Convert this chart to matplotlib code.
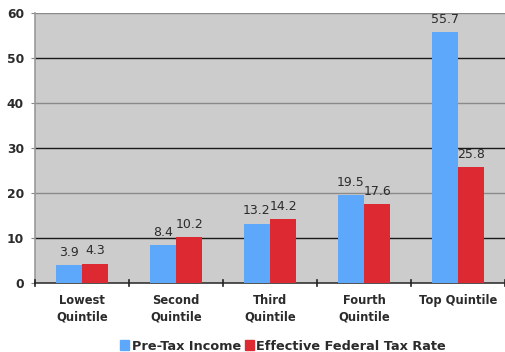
import matplotlib
matplotlib.use("Agg")
import matplotlib.pyplot as plt
import numpy as np

categories = ["Lowest\nQuintile", "Second\nQuintile", "Third\nQuintile", "Fourth\nQuintile", "Top Quintile"]
pre_tax_income = [3.9, 8.4, 13.2, 19.5, 55.7]
effective_tax_rate = [4.3, 10.2, 14.2, 17.6, 25.8]
series_names = ["Pre-Tax Income", "Effective Federal Tax Rate"]
y_ticks = [0, 10, 20, 30, 40, 50, 60]

blue = "#5ea8fb"
red = "#dd2a32"
text_color = "#2b2b2b"

fig = plt.figure(figsize=(5.05, 3.52), dpi=100)
ax = fig.add_axes([35 / 505, 69 / 352, 470 / 505, 270 / 352])
ax.set_facecolor("#cccccc")

x = np.arange(len(categories))
w = 0.28
b1 = ax.bar(x - w / 2, pre_tax_income, w, color=blue, zorder=3)
b2 = ax.bar(x + w / 2, effective_tax_rate, w, color=red, zorder=3)

for bars, vals in ((b1, pre_tax_income), (b2, effective_tax_rate)):
    for rect, v in zip(bars, vals):
        ax.annotate(f"{v:.1f}", (rect.get_x() + rect.get_width() / 2, v),
                    xytext=(0, 4.5), textcoords="offset points",
                    ha="center", va="bottom", fontsize=9, color=text_color, zorder=4)

ax.set_xlim(-0.5, len(categories) - 0.5)
ax.set_ylim(0, 60)
ax.set_yticks(y_ticks)
ax.set_yticklabels([str(t) for t in y_ticks], fontsize=8.8, color=text_color, fontweight="bold")

# horizontal gridlines
for t in y_ticks[1:]:
    col = "#1a1a1a" if t % 20 else "#8a8a8a"
    ax.axhline(t, color=col, linewidth=1.0, zorder=1)

ax.set_xticks(x)
ax.set_xticklabels(categories, fontsize=8.3, color=text_color, fontweight="bold",
                   linespacing=1.3)
ax.tick_params(axis="x", length=0, pad=8)
ax.tick_params(axis="y", length=3, color="#888888", pad=5)
# category boundary tick marks
for b in np.arange(-0.5, len(categories), 1.0):
    ax.plot([b, b], [-0.6, 0.6], color="#222222", linewidth=1.2, clip_on=False, zorder=5)

for s in ("top", "right"):
    ax.spines[s].set_visible(False)
ax.spines["left"].set_color("#999999")
ax.spines["left"].set_linewidth(1.2)
ax.spines["bottom"].set_color("#333333")
ax.spines["bottom"].set_linewidth(1.2)

handles = [plt.Rectangle((0, 0), 1, 1, color=blue), plt.Rectangle((0, 0), 1, 1, color=red)]
leg = fig.legend(handles, series_names, loc="center", bbox_to_anchor=(283 / 505, 1 - 346 / 352),
                 ncol=2, frameon=False, handlelength=0.7, handleheight=0.7, handletextpad=0.2,
                 columnspacing=0.3, borderpad=0, prop={"size": 9.3, "weight": "bold"})
for t in leg.get_texts():
    t.set_color(text_color)

fig.savefig("out.png", dpi=100, facecolor="white")
